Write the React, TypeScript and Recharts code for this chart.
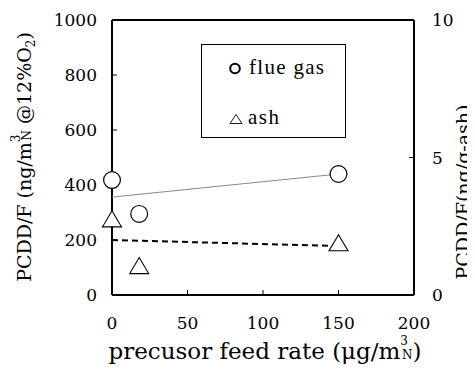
import React from 'react';
import { ComposedChart, XAxis, YAxis, Scatter, Legend, ReferenceLine, Label } from 'recharts';

const xTicks = [0, 50, 100, 150, 200];
const leftTicks = [0, 200, 400, 600, 800, 1000];
const rightTicks = [0, 5, 10];

const flueGas = [
  { x: 0, y: 418 },
  { x: 18, y: 295 },
  { x: 150, y: 440 },
];
const ash = [
  { x: 0, y: 2.77 },
  { x: 18, y: 1.07 },
  { x: 150, y: 1.9 },
];
const flueGasTrend = [
  { x: 0, y: 356 },
  { x: 150, y: 440 },
];
const ashTrend = [
  { x: 0, y: 2.0 },
  { x: 150, y: 1.78 },
];

const FONT = 'DejaVu Serif';

const makeTick = (anchor: 'start' | 'middle' | 'end', dy: number) => (p: any) => (
  <text
    x={p.x}
    y={p.y}
    dy={dy}
    textAnchor={anchor}
    fontFamily={FONT}
    fontSize={17}
    fill="#000"
  >
    {p.payload.value}
  </text>
);
const XTick = makeTick('middle', 12);
const LeftTick = makeTick('end', 6);
const RightTick = makeTick('start', 6);

const CircleShape = (p: any) => (
  <circle cx={p.cx} cy={p.cy} r={8.4} fill="#fff" stroke="#000" strokeWidth={1.2} />
);
const TriangleShape = (p: any) => {
  const w = 19, h = 16;
  const { cx, cy } = p;
  return (
    <polygon
      points={`${cx},${cy - h / 2} ${cx + w / 2},${cy + h / 2} ${cx - w / 2},${cy + h / 2}`}
      fill="#fff"
      stroke="#000"
      strokeWidth={1.1}
    />
  );
};
const NoShape = () => <g />;

const LegendBox = () => (
  <div style={{ width: 145, height: 94, border: '1px solid #000', boxSizing: 'border-box', background: '#fff' }}>
    <svg width={143} height={92} style={{ display: 'block' }}>
      <circle cx={33} cy={23.5} r={4.8} fill="#fff" stroke="#000" strokeWidth={2} />
      <text x={47} y={28.5} fontFamily="Liberation Serif" fontSize={21} fill="#000" letterSpacing={1.3}>flue gas</text>
      <polygon points="34,69.5 40,78.5 28,78.5" fill="#fff" stroke="#000" strokeWidth={0.9} />
      <text x={46} y={78.5} fontFamily="Liberation Serif" fontSize={21} fill="#000" letterSpacing={1.5}>ash</text>
    </svg>
  </div>
);

export default function App() {
  return (
    <ComposedChart
      width={467}
      height={365}
      margin={{ top: 12, right: 1, bottom: 0, left: 44 }}
    >
      <XAxis
        type="number"
        dataKey="x"
        domain={[0, 200]}
        ticks={xTicks}
        tickSize={-5}
        tickMargin={27}
        axisLine={{ stroke: '#000', strokeWidth: 2 }}
        tickLine={{ stroke: '#000' }}
        tick={XTick}
        height={78}
      >
        <Label
          content={() => (
            <text x={257} y={351} textAnchor="middle" fontFamily={FONT} fontSize={23} fill="#000">
              precusor feed rate (μg/m
              <tspan dy={-14} fontSize={12}>3</tspan>
              <tspan dy={14} dx={-6} fontSize={12}>N</tspan>
              <tspan>)</tspan>
            </text>
          )}
        />
      </XAxis>
      <YAxis
        yAxisId="left"
        type="number"
        dataKey="y"
        domain={[0, 1000]}
        ticks={leftTicks}
        tickSize={-5}
        tickMargin={20}
        width={60}
        axisLine={{ stroke: '#000', strokeWidth: 2 }}
        tickLine={{ stroke: '#000' }}
        tick={LeftTick}
      >
        <Label
          content={() => (
            <text
              x={23}
              y={149}
              transform="rotate(-90 23 149)"
              textAnchor="middle"
              fontFamily={FONT}
              fontSize={19}
              fill="#000"
            >
              PCDD/F (ng/m
              <tspan dy={-11} fontSize={12}>3</tspan>
              <tspan dy={11} dx={-6} fontSize={12}>N</tspan>
              <tspan> @12%O</tspan>
              <tspan dy={4} fontSize={12}>2</tspan>
              <tspan dy={-4}>)</tspan>
            </text>
          )}
        />
      </YAxis>
      <YAxis
        yAxisId="right"
        orientation="right"
        type="number"
        dataKey="y"
        domain={[0, 10]}
        ticks={rightTicks}
        tickSize={-5}
        tickMargin={23}
        width={60}
        axisLine={{ stroke: '#000', strokeWidth: 2 }}
        tickLine={{ stroke: '#000' }}
        tick={RightTick}
      >
        <Label
          content={() => (
            <text
              x={462}
              y={184}
              transform="rotate(-90 462 184)"
              textAnchor="middle"
              fontFamily={FONT}
              fontSize={19}
              fill="#000"
            >
              PCDD/F(ng/g-ash)
            </text>
          )}
        />
      </YAxis>
      <ReferenceLine yAxisId="left" y={1000} stroke="#000" strokeWidth={2} />
      <Scatter
        yAxisId="left"
        data={flueGasTrend}
        line={{ stroke: '#888', strokeWidth: 1 }}
        shape={NoShape}
        isAnimationActive={false}
        legendType="none"
      />
      <Scatter
        yAxisId="right"
        data={ashTrend}
        line={{ stroke: '#000', strokeWidth: 2, strokeDasharray: '6 4' }}
        shape={NoShape}
        isAnimationActive={false}
        legendType="none"
      />
      <Scatter yAxisId="left" name="flue gas" data={flueGas} shape={CircleShape} isAnimationActive={false} />
      <Scatter yAxisId="right" name="ash" data={ash} shape={TriangleShape} isAnimationActive={false} />
      <Legend
        layout="horizontal"
        verticalAlign="middle"
        align="center"
        content={() => <LegendBox />}
        wrapperStyle={{ position: 'absolute', left: 193, top: 36, width: 145, height: 94 }}
      />
    </ComposedChart>
  );
}
